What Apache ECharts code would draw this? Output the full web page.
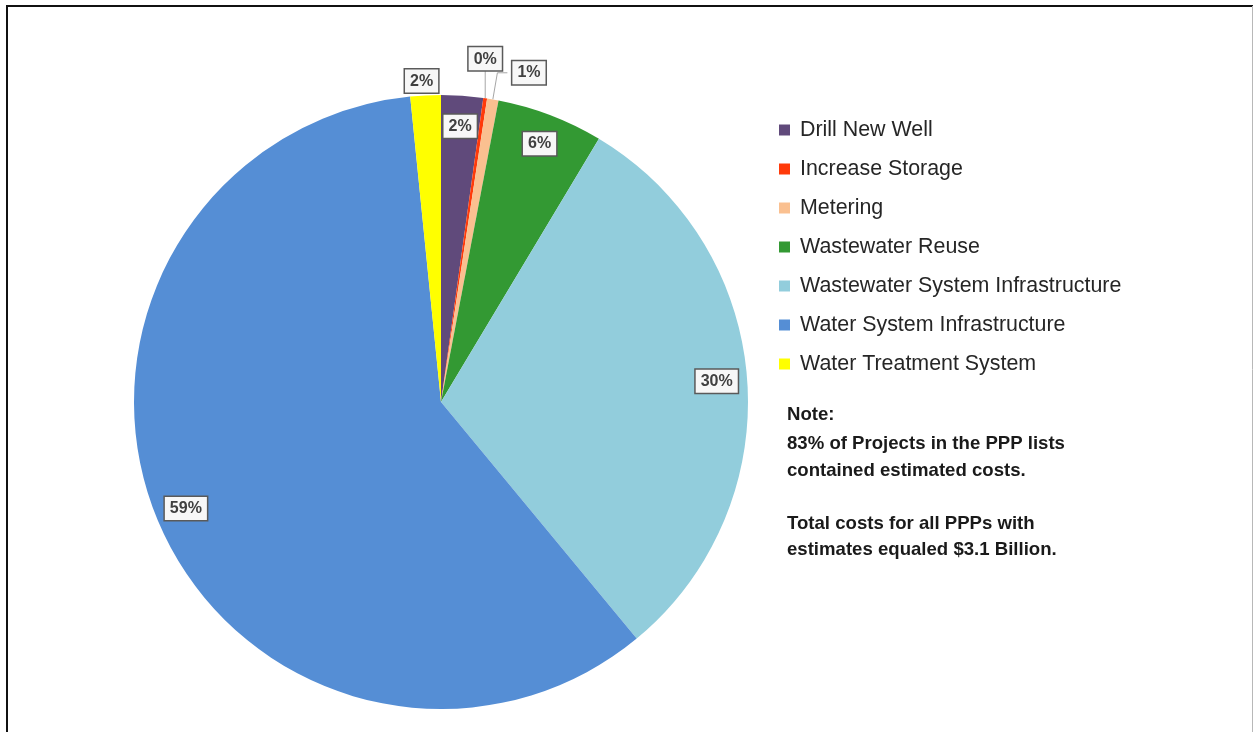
<!DOCTYPE html>
<html>
<head>
<meta charset="utf-8">
<title>Estimated PPP Project Costs by Type</title>
<script src="https://cdn.jsdelivr.net/npm/echarts@6/dist/echarts.min.js"></script>
<style>
  html, body { margin: 0; padding: 0; background: #ffffff; }
  #chart { width: 1254px; height: 732px; }
</style>
</head>
<body>
<div id="chart"></div>
<script>
// Project types and their share of estimated cost (percent)
const categories = [
  'Drill New Well',
  'Increase Storage',
  'Metering',
  'Wastewater Reuse',
  'Wastewater System Infrastructure',
  'Water System Infrastructure',
  'Water Treatment System'
];
const shares = [2.2, 0.2, 0.6, 5.6, 30.4, 59.4, 1.6];

const sliceColors = ['#604a7b', '#ff3a0a', '#fac090', '#339933', '#92cddc', '#558ed5', '#ffff00'];
// where each percentage box sits: on the rim band or outside the pie
const labelPlacement = ['inside', 'outside', 'outside', 'inside', 'inside', 'inside', 'outside'];

const noteTitle = 'Note:';
const noteLines = [
  '83% of Projects in the PPP lists',
  'contained estimated costs.',
  '',
  'Total costs for all PPPs with',
  'estimates equaled $3.1 Billion.'
];

const total = shares.reduce((a, b) => a + b, 0);
const pct = v => Math.round(v / total * 100) + '%';

const CENTER = [441, 402];
const R = 307;

const chart = echarts.init(document.getElementById('chart'), null, { renderer: 'canvas' });

const pieData = categories.map((name, i) => ({
  name: name,
  value: shares[i],
  itemStyle: { color: sliceColors[i] }
}));

const labelBox = {
  show: true,
  fontFamily: 'Liberation Sans, Arial, sans-serif',
  fontSize: 16,
  fontWeight: 'bold',
  color: '#404040',
  backgroundColor: '#f7f7f7',
  borderColor: '#5a5a5a',
  borderWidth: 1.5,
  padding: [3, 5, 2, 5],
  lineHeight: 18,
  formatter: p => pct(p.value)
};

const labelData = categories.map((name, i) => {
  const outside = labelPlacement[i] === 'outside';
  return {
    name: name,
    value: shares[i],
    label: Object.assign({}, labelBox, { position: outside ? 'outside' : 'inside' }),
    labelLine: outside
      ? { show: true, length: 27, length2: 10, lineStyle: { color: '#a6a6a6', width: 1 } }
      : { show: false }
  };
});

const option = {
  backgroundColor: '#ffffff',
  animation: false,
  legend: {
    orient: 'vertical',
    left: 774,
    top: 113,
    itemWidth: 11,
    itemHeight: 11,
    itemGap: 15,
    icon: 'rect',
    selectedMode: false,
    data: categories,
    textStyle: {
      fontFamily: 'Liberation Sans, Arial, sans-serif',
      fontSize: 21.4,
      color: '#262626',
      lineHeight: 24,
      padding: [0, 0, 0, 5]
    }
  },
  series: [
    {
      // the pie itself
      type: 'pie',
      center: CENTER,
      radius: [0, R],
      startAngle: 90,
      clockwise: true,
      silent: true,
      label: { show: false },
      labelLine: { show: false },
      emphasis: { disabled: true },
      data: pieData
    },
    {
      // transparent rim band that carries the percentage boxes
      type: 'pie',
      center: CENTER,
      radius: [240, R],
      startAngle: 90,
      clockwise: true,
      silent: true,
      avoidLabelOverlap: false,
      itemStyle: { color: 'rgba(0,0,0,0)' },
      emphasis: { disabled: true },
      data: labelData,
      labelLayout: function (p) {
        if (p.seriesIndex !== 1 || !p.labelLinePoints) return;
        const e = p.labelLinePoints[0];
        if (p.dataIndex === 1) {
          // straight-up leader with the box sitting on top
          const top = [e[0], e[1] - 28];
          return { x: top[0], y: top[1], align: 'center', verticalAlign: 'bottom',
                   labelLinePoints: [e, top, top] };
        }
        if (p.dataIndex === 6) {
          // box resting just above the rim
          return { x: e[0] - 4, y: e[1] - 3, align: 'center', verticalAlign: 'bottom',
                   labelLinePoints: [e, e, e] };
        }
      }
    }
  ],
  graphic: [
    // frame edges
    { type: 'line', shape: { x1: 7, y1: 5, x2: 7, y2: 740 }, style: { stroke: '#111', lineWidth: 2 } },
    { type: 'line', shape: { x1: 6, y1: 6, x2: 1253, y2: 6 }, style: { stroke: '#111', lineWidth: 2 } },
    { type: 'line', shape: { x1: 1252.5, y1: 6, x2: 1252.5, y2: 740 }, style: { stroke: '#b8b8b8', lineWidth: 1 } },
    {
      type: 'text', left: 787, top: 405,
      style: {
        text: noteTitle,
        font: 'bold 18.6px "Liberation Sans", Arial, sans-serif',
        fill: '#1a1a1a'
      }
    },
    {
      type: 'text', left: 787, top: 431,
      style: {
        text: noteLines.join('\n'),
        font: 'bold 18.6px "Liberation Sans", Arial, sans-serif',
        lineHeight: 26.5,
        fill: '#1a1a1a'
      }
    }
  ]
};

chart.setOption(option);
</script>
</body>
</html>
